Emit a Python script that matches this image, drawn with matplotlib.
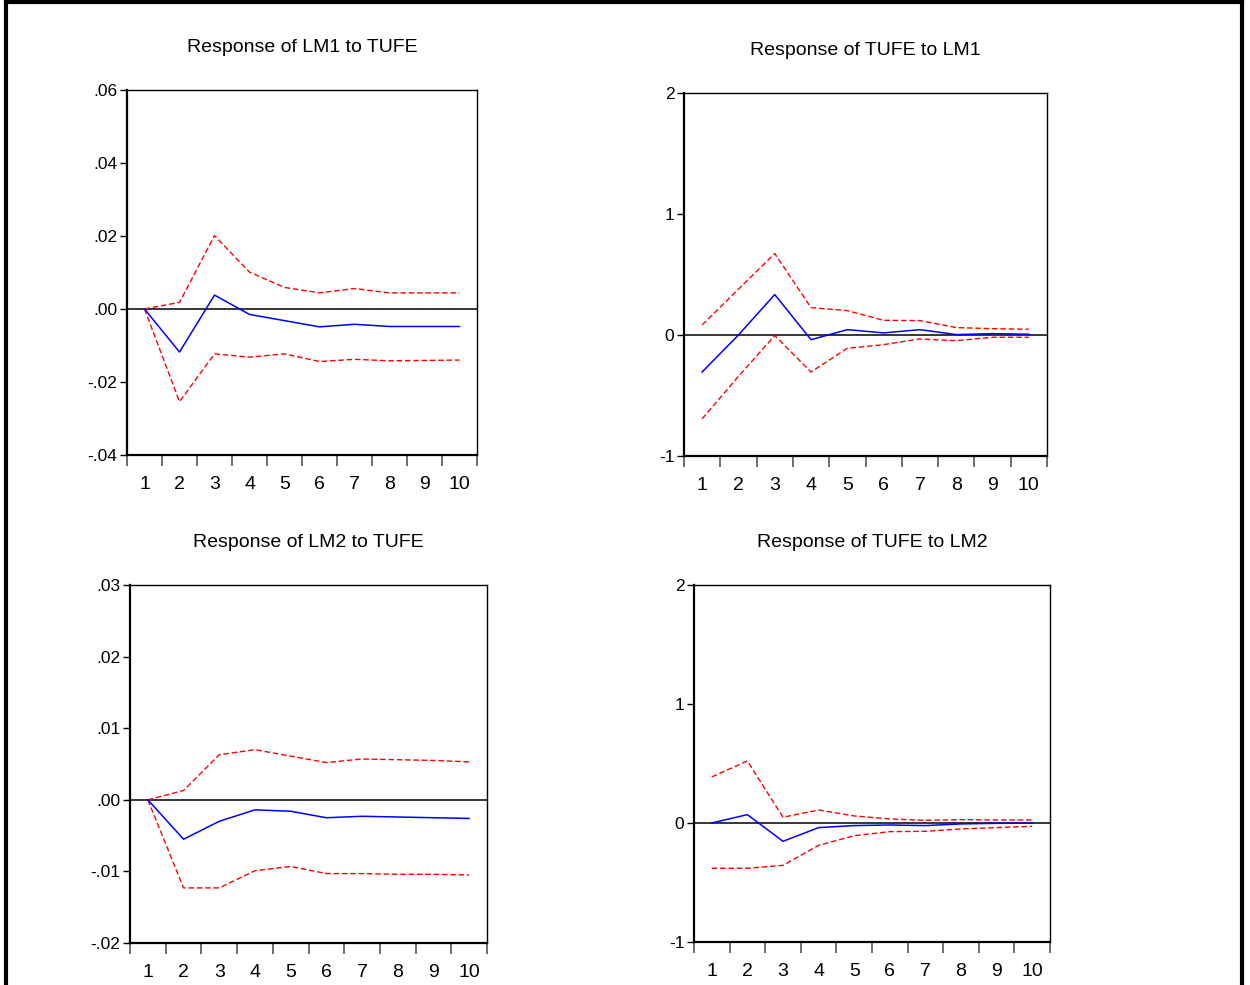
import matplotlib
matplotlib.use("Agg")
import matplotlib.pyplot as plt
from matplotlib.lines import Line2D

plt.rcParams['font.family'] = ['Liberation Sans Narrow', 'Liberation Sans', 'DejaVu Sans']

# ---- data ----
periods = [1, 2, 3, 4, 5, 6, 7, 8, 9, 10]

titles = ["Response of LM1 to TUFE", "Response of TUFE to LM1",
          "Response of LM2 to TUFE", "Response of TUFE to LM2"]

lm1_tufe = [0.0, -0.0118, 0.0038, -0.0015, -0.0032, -0.0049, -0.0042, -0.0048, -0.0048, -0.0048]
lm1_tufe_hi = [0.0, 0.0018, 0.0201, 0.0101, 0.0059, 0.0044, 0.0056, 0.0044, 0.0044, 0.0044]
lm1_tufe_lo = [0.0, -0.0254, -0.0123, -0.0132, -0.0123, -0.0144, -0.0138, -0.0142, -0.0141, -0.0140]

tufe_lm1 = [-0.306, 0.0, 0.334, -0.039, 0.044, 0.017, 0.044, 0.003, 0.011, 0.006]
tufe_lm1_hi = [0.083, 0.378, 0.673, 0.226, 0.201, 0.121, 0.119, 0.061, 0.052, 0.047]
tufe_lm1_lo = [-0.693, -0.342, -0.005, -0.306, -0.110, -0.080, -0.033, -0.047, -0.019, -0.019]

lm2_tufe = [0.0, -0.0055, -0.0030, -0.0014, -0.0016, -0.0025, -0.0023, -0.0024, -0.0025, -0.0026]
lm2_tufe_hi = [0.0, 0.0013, 0.0063, 0.0070, 0.0061, 0.0052, 0.0057, 0.0056, 0.0055, 0.0053]
lm2_tufe_lo = [0.0, -0.0123, -0.0123, -0.0099, -0.0093, -0.0103, -0.0103, -0.0104, -0.0104, -0.0105]

tufe_lm2 = [0.0, 0.070, -0.154, -0.039, -0.022, -0.017, -0.022, -0.008, -0.003, 0.0]
tufe_lm2_hi = [0.387, 0.521, 0.048, 0.109, 0.059, 0.034, 0.022, 0.028, 0.025, 0.025]
tufe_lm2_lo = [-0.381, -0.381, -0.356, -0.188, -0.107, -0.073, -0.070, -0.050, -0.039, -0.028]

yticks_1 = [-0.04, -0.02, 0.0, 0.02, 0.04, 0.06]
ylabels_1 = ["-.04", "-.02", ".00", ".02", ".04", ".06"]
yticks_2 = [-1, 0, 1, 2]
ylabels_2 = ["-1", "0", "1", "2"]
yticks_3 = [-0.02, -0.01, 0.0, 0.01, 0.02, 0.03]
ylabels_3 = ["-.02", "-.01", ".00", ".01", ".02", ".03"]

panels = [
    (lm1_tufe, lm1_tufe_hi, lm1_tufe_lo, yticks_1, ylabels_1),
    (tufe_lm1, tufe_lm1_hi, tufe_lm1_lo, yticks_2, ylabels_2),
    (lm2_tufe, lm2_tufe_hi, lm2_tufe_lo, yticks_3, ylabels_3),
    (tufe_lm2, tufe_lm2_hi, tufe_lm2_lo, yticks_2, ylabels_2),
]

# axes rectangles [left, bottom, width, height] in figure fractions
rects = [
    [0.1016, 0.5381, 0.2800, 0.3706],
    [0.5472, 0.5371, 0.2904, 0.3685],
    [0.1040, 0.0426, 0.2856, 0.3635],
    [0.5552, 0.0437, 0.2848, 0.3624],
]

fig = plt.figure(figsize=(12.5, 9.85), dpi=100)

for (resp, hi, lo, yt, yl), rect, title in zip(panels, rects, titles):
    ax = fig.add_axes(rect)
    ax.axhline(0, color="black", lw=1.1, zorder=1)
    ax.plot(periods, resp, color="#0000ff", lw=1.1, zorder=3)
    ax.plot(periods, hi, color="#ff0000", lw=1.0, ls=(0, (4, 2)), zorder=2)
    ax.plot(periods, lo, color="#ff0000", lw=1.0, ls=(0, (4, 2)), zorder=2)

    ax.set_xlim(0.5, 10.5)
    ax.set_ylim(yt[0], yt[-1])
    ax.set_yticks(yt)
    ax.set_yticklabels(yl, fontsize=12.5)
    ax.set_xticks(periods)
    ax.set_xticklabels([str(p) for p in periods], fontsize=14)
    ax.set_xticks([p - 0.5 for p in periods] + [10.5], minor=True)
    ax.tick_params(axis="x", which="major", length=0, pad=15)
    ax.tick_params(axis="x", which="minor", length=8, width=1.2, color="#555555", direction="out")
    ax.tick_params(axis="y", length=5, width=1, direction="out", pad=2)

    for side in ["left", "bottom"]:
        ax.spines[side].set_linewidth(1.6)
    for side in ["top", "right"]:
        ax.spines[side].set_linewidth(1.0)

    ax.set_title(title, fontsize=14, pad=27)

# outer frame (bottom edge runs off the image)
frame_kw = dict(color="black", lw=3, transform=fig.transFigure)
fig.add_artist(Line2D([0.0048, 0.0048], [0.0, 0.998], **frame_kw))
fig.add_artist(Line2D([0.9936, 0.9936], [0.0, 0.998], **frame_kw))
fig.add_artist(Line2D([0.0048, 0.9936], [0.998, 0.998], **frame_kw))

fig.savefig("out.png", dpi=100)
